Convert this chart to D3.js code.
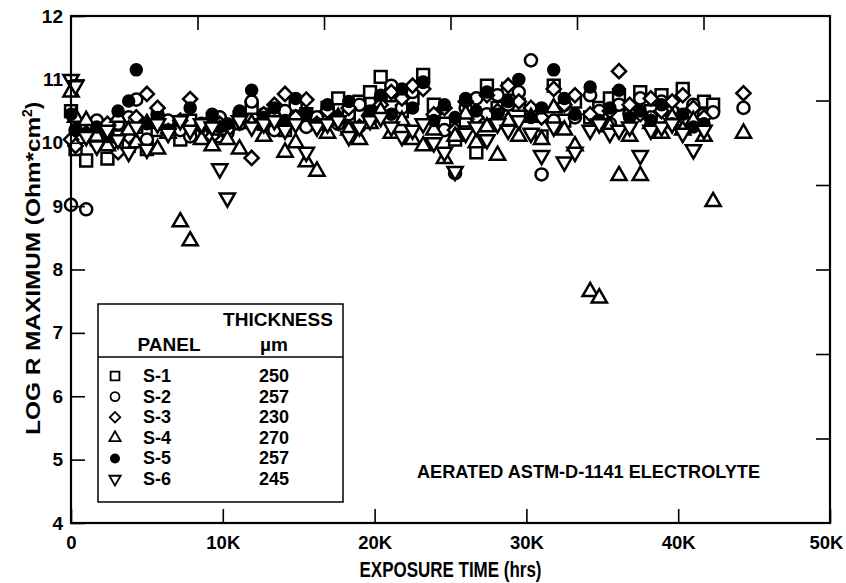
<!DOCTYPE html>
<html>
<head>
<meta charset="utf-8">
<script src="https://cdn.jsdelivr.net/npm/d3@7"></script>
<style>
  body { margin: 0; background: #fff; }
  text { font-family: "Liberation Sans", Arial, Helvetica, sans-serif; font-weight: bold; fill: #000; }
</style>
</head>
<body>
<svg id="chart"></svg>
<script>
// exposure times (hrs), shared by all panels
const times = [0, 300, 1000, 1700, 2400, 3100, 3800, 4300, 5000, 5700,
  6400, 7200, 7850, 8600, 9300, 9800, 10300, 11100, 11900, 12700,
  13400, 14100, 14800, 15500, 16200, 16900, 17600, 18300, 19000, 19700,
  20400, 21100, 21800, 22500, 23200, 23900, 24600, 25300, 26000, 26700,
  27400, 28100, 28800, 29500, 30300, 31000, 31800, 32500, 33200, 34200,
  34800, 35500, 36100, 36800, 37500, 38200, 38900, 39600, 40300, 41000,
  41700, 42300, 44300];

// log R maximum per panel
const s1 = [10.50, 9.90, 9.72, 10.05, 9.75, 10.10, 9.95, 10.25, 9.90, 10.20,
  10.30, 10.05, 10.35, 10.15, 10.30, 10.10, 10.25, 10.40, 10.55, 10.30,
  10.35, 10.20, 10.60, 10.45, 10.30, 10.55, 10.70, 10.40, 10.65, 10.80,
  11.04, 10.75, 10.50, 10.70, 11.07, 10.60, 10.30, 10.05, 10.35, 9.85,
  10.90, 10.55, 10.85, 10.60, 10.45, 10.10, 10.90, 10.35, 10.65, 10.40,
  10.55, 10.70, 10.75, 10.55, 10.80, 10.50, 10.75, 10.45, 10.85, 10.40,
  10.65, 10.60, null];
const s2 = [9.02, 10.20, 8.95, 10.35, 10.15, 10.30, 10.40, 10.68, 10.05, 10.45,
  10.35, 10.20, 10.10, 10.30, 10.25, 10.40, 10.15, 10.30, 10.65, 10.45,
  10.20, 10.50, 10.35, 10.25, 10.40, 10.55, 10.30, 10.45, 10.60, 10.35,
  10.70, 10.90, 10.55, 10.80, 10.95, 10.40, 10.20, 9.52, 10.55, 10.70,
  10.45, 10.75, 10.60, 10.80, 11.30, 9.50, 10.35, 10.60, 10.40, 10.75,
  10.50, 10.30, 10.60, 10.45, 10.70, 10.40, 10.65, 10.50, 10.35, 10.60,
  10.45, 10.48, 10.55];
const s3 = [10.05, 9.95, 10.15, 10.00, 10.30, 9.85, 10.10, 10.40, 10.77, 10.55,
  10.15, 10.35, 10.69, 10.25, 10.10, 10.30, 10.20, 10.35, 9.76, 10.45,
  10.60, 10.77, 10.40, 10.68, 10.30, 10.50, 10.35, 10.55, 10.25, 10.45,
  10.60, 10.80, 10.70, 10.90, 10.85, 10.45, 10.55, 10.20, 10.65, 10.40,
  10.75, 10.50, 10.90, 10.65, 10.55, 10.40, 10.85, 10.60, 10.75, 10.45,
  10.30, 10.50, 11.13, 10.60, 10.45, 10.70, 10.50, 10.65, 10.75, 10.55,
  10.40, null, 10.78];
const s4 = [10.80, 10.40, 10.35, 10.10, 9.95, 10.40, 10.20, 10.00, 10.30, 9.90,
  10.15, 8.75, 8.45, 10.05, 9.95, 10.20, 10.05, 9.90, 10.30, 10.10,
  10.45, 9.85, 10.00, 9.70, 9.55, 10.15, 10.40, 10.20, 10.05, 10.30,
  10.50, 10.15, 10.35, 10.05, 9.95, 10.20, 9.75, 10.10, 10.45, 10.00,
  10.25, 9.80, 10.35, 10.10, 10.40, 10.05, 10.55, 10.20, 9.95, 7.65,
  7.55, 10.25, 9.48, 10.10, 9.48, 10.30, 10.15, 10.40, 10.20, 10.35,
  10.10, 9.07, 10.15];
const s5 = [10.45, 10.20, 10.15, 10.25, 10.10, 10.50, 10.66, 11.15, 10.30, 10.40,
  10.20, 10.35, 10.55, 10.30, 10.45, 10.25, 10.30, 10.50, 10.83, 10.40,
  10.55, 10.35, 10.70, 10.45, 10.30, 10.60, 10.40, 10.65, 10.25, 10.50,
  10.75, 10.45, 10.85, 10.55, 10.95, 10.35, 10.60, 10.40, 10.70, 10.50,
  10.80, 10.45, 10.65, 11.00, 10.40, 10.55, 11.15, 10.70, 10.45, 10.88,
  10.35, 10.55, 10.83, 10.40, 10.50, 10.35, 10.60, 10.30, 10.45, 10.25,
  10.30, null, null];
const s6 = [11.00, 10.90, 10.10, 9.95, 10.20, 10.05, 9.85, 10.25, 9.90, 10.30,
  10.15, 10.35, 10.20, 10.30, 10.25, 9.59, 9.13, 10.35, 10.25, 10.30,
  10.35, 10.20, 10.30, 9.85, 10.25, 10.30, 10.35, 10.10, 10.25, 10.35,
  10.40, 10.25, 10.10, 10.20, 10.30, 10.00, 9.85, 9.55, 10.15, 10.25,
  10.05, 10.30, 10.20, 10.35, 10.15, 9.80, 10.25, 9.70, 9.85, 10.20,
  10.30, 10.15, 10.20, 10.25, 9.80, 10.20, 10.25, 10.30, 10.15, 9.89,
  10.20, null, null];

const panels = ["S-1", "S-2", "S-3", "S-4", "S-5", "S-6"];
const thickness = [250, 257, 230, 270, 257, 245];
const seriesValues = [s1, s2, s3, s4, s5, s6];

const xTicks = [0, 10000, 20000, 30000, 40000, 50000];
const xTickLabels = ["0", "10K", "20K", "30K", "40K", "50K"];
const yTicks = [4, 5, 6, 7, 8, 9, 10, 11, 12];
const topTicks = [50000 / 6, 100000 / 6, 150000 / 6, 200000 / 6, 250000 / 6];
const rightTicks = [4 + 8 / 6, 4 + 16 / 6, 4 + 24 / 6, 4 + 32 / 6, 4 + 40 / 6];

const width = 846, height = 583;
const marginLeft = 71, marginRight = 16, marginTop = 16, marginBottom = 60;

const x = d3.scaleLinear([0, 50000], [marginLeft, width - marginRight]);
const y = d3.scaleLinear([4, 12], [height - marginBottom, marginTop]);

// marker shapes: [symbol type, area, rotation, filled]
const shapes = [
  [d3.symbolSquare, 140, 0, false],
  [d3.symbolCircle, 115, 0, false],
  [d3.symbolSquare, 100, 45, false],
  [d3.symbolTriangle, 100, 0, false],
  [d3.symbolCircle, 95, 0, true],
  [d3.symbolTriangle, 100, 180, false]
];

const svg = d3.select("#chart")
  .attr("width", width)
  .attr("height", height)
  .attr("viewBox", [0, 0, width, height]);

// points
seriesValues.forEach((vals, k) => {
  const [type, size, rot, filled] = shapes[k];
  const pts = times.map((t, i) => ({t, v: vals[i]})).filter(d => d.v != null);
  svg.append("g")
    .selectAll("path")
    .data(pts)
    .join("path")
    .attr("d", d3.symbol(type, size))
    .attr("transform", d => `translate(${x(d.t)},${y(d.v)}) rotate(${rot})`)
    .attr("fill", filled ? "#000" : "#fff")
    .attr("stroke", "#000")
    .attr("stroke-width", 2.5);
});

// frame
svg.append("rect")
  .attr("x", x(0)).attr("y", y(12))
  .attr("width", x(50000) - x(0)).attr("height", y(4) - y(12))
  .attr("fill", "none").attr("stroke", "#000").attr("stroke-width", 2.2);

// bottom axis
const gx = svg.append("g")
  .attr("transform", `translate(0,${y(4)})`)
  .call(d3.axisBottom(x).tickValues(xTicks).tickFormat((d, i) => xTickLabels[i])
    .tickSize(-14).tickPadding(13));
gx.selectAll("text").style("font-size", "18.5px");
gx.selectAll(".tick:last-of-type text").attr("dx", -4);

// left axis
const gy = svg.append("g")
  .attr("transform", `translate(${x(0)},0)`)
  .call(d3.axisLeft(y).tickValues(yTicks).tickSize(-14).tickPadding(8));
gy.selectAll("text").style("font-size", "19px");

// top + right ticks, no labels
svg.append("g")
  .attr("transform", `translate(0,${y(12)})`)
  .call(d3.axisTop(x).tickValues(topTicks).tickSize(-14).tickFormat(""));
svg.append("g")
  .attr("transform", `translate(${x(50000)},0)`)
  .call(d3.axisRight(y).tickValues(rightTicks).tickSize(-14).tickFormat(""));

svg.selectAll(".domain").remove();
svg.selectAll(".tick line").attr("stroke", "#000").attr("stroke-width", 1.6);
svg.selectAll(".tick text").attr("fill", "#000");

// axis titles
svg.append("text")
  .attr("x", (x(0) + x(50000)) / 2).attr("y", 577)
  .attr("text-anchor", "middle")
  .attr("textLength", 182).attr("lengthAdjust", "spacingAndGlyphs")
  .style("font-size", "22px")
  .text("EXPOSURE TIME (hrs)");

const yt = svg.append("text")
  .attr("transform", `translate(40,${(y(4) + y(12)) / 2 - 1}) rotate(-90)`)
  .attr("text-anchor", "middle")
  .style("font-size", "21px");
yt.append("tspan").attr("textLength", 318).attr("lengthAdjust", "spacingAndGlyphs")
  .text("LOG R MAXIMUM (Ohm*cm");
yt.append("tspan").attr("dy", -8).style("font-size", "14px").text("2");
yt.append("tspan").attr("dy", 8).text(")");

// note
svg.append("text")
  .attr("x", 417).attr("y", 478)
  .attr("textLength", 343).attr("lengthAdjust", "spacingAndGlyphs")
  .style("font-size", "18px")
  .text("AERATED ASTM-D-1141 ELECTROLYTE");

// legend
const lg = svg.append("g");
lg.append("rect")
  .attr("x", 98).attr("y", 304).attr("width", 245).attr("height", 198)
  .attr("fill", "#fff").attr("stroke", "#000").attr("stroke-width", 1.5);
lg.append("line")
  .attr("x1", 98).attr("x2", 343).attr("y1", 357).attr("y2", 357)
  .attr("stroke", "#000").attr("stroke-width", 1.5);
lg.append("text").attr("x", 278).attr("y", 326).attr("text-anchor", "middle")
  .style("font-size", "19px").text("THICKNESS");
lg.append("text").attr("x", 169).attr("y", 351).attr("text-anchor", "middle")
  .style("font-size", "19px").text("PANEL");
lg.append("text").attr("x", 274).attr("y", 351).attr("text-anchor", "middle")
  .style("font-size", "19px").text("µm");

panels.forEach((p, k) => {
  const [type, size, rot, filled] = shapes[k];
  const yy = 382 + k * 20.6;
  lg.append("path")
    .attr("d", d3.symbol(type, size * 0.55))
    .attr("transform", `translate(115,${yy - 6}) rotate(${rot})`)
    .attr("fill", filled ? "#000" : "#fff")
    .attr("stroke", "#000").attr("stroke-width", 1.8);
  lg.append("text").attr("x", 143).attr("y", yy)
    .style("font-size", "18px").text(p);
  lg.append("text").attr("x", 274).attr("y", yy).attr("text-anchor", "middle")
    .style("font-size", "18px").text(thickness[k]);
});
</script>
</body>
</html>
